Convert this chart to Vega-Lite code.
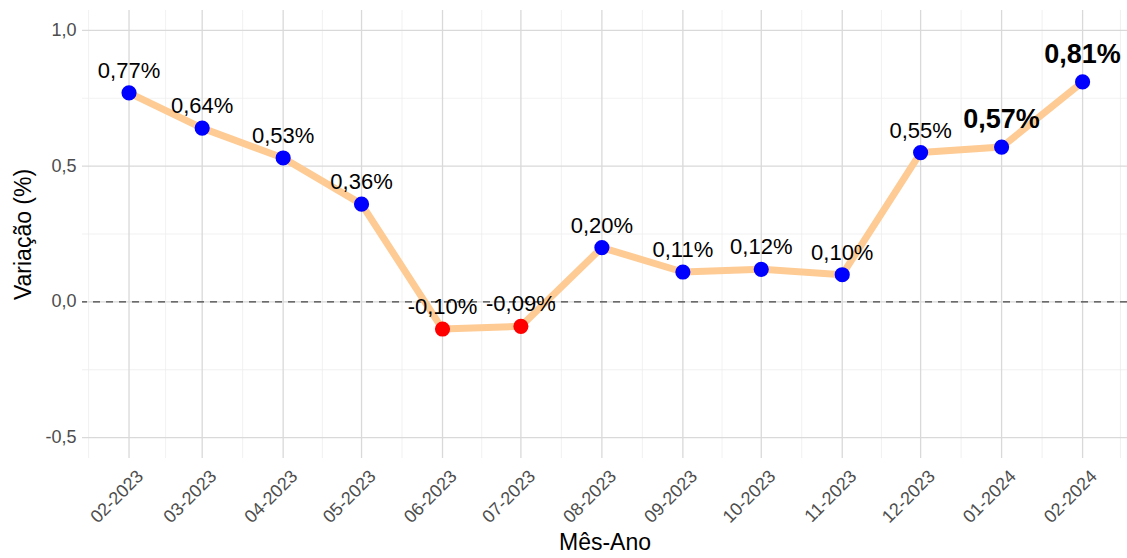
{
  "$schema": "https://vega.github.io/schema/vega-lite/v6.json",
  "width": 1045,
  "height": 448,
  "autosize": "none",
  "padding": {"left": 82, "top": 10, "right": 0, "bottom": 100},
  "background": "white",
  "config": {"view": {"stroke": null}, "font": "Liberation Sans"},
  "datasets": {
    "serie": [
      {"data": "2023-02-01", "valor": 0.77, "rotulo": "0,77%"},
      {"data": "2023-03-01", "valor": 0.64, "rotulo": "0,64%"},
      {"data": "2023-04-01", "valor": 0.53, "rotulo": "0,53%"},
      {"data": "2023-05-01", "valor": 0.36, "rotulo": "0,36%"},
      {"data": "2023-06-01", "valor": -0.10, "rotulo": "-0,10%"},
      {"data": "2023-07-01", "valor": -0.09, "rotulo": "-0,09%"},
      {"data": "2023-08-01", "valor": 0.20, "rotulo": "0,20%"},
      {"data": "2023-09-01", "valor": 0.11, "rotulo": "0,11%"},
      {"data": "2023-10-01", "valor": 0.12, "rotulo": "0,12%"},
      {"data": "2023-11-01", "valor": 0.10, "rotulo": "0,10%"},
      {"data": "2023-12-01", "valor": 0.55, "rotulo": "0,55%"},
      {"data": "2024-01-01", "valor": 0.57, "rotulo": "0,57%"},
      {"data": "2024-02-01", "valor": 0.81, "rotulo": "0,81%"}
    ],
    "menorx": [
      {"data": "2023-01-16T12:00:00Z"},
      {"data": "2023-02-15T00:00:00Z"},
      {"data": "2023-03-16T12:00:00Z"},
      {"data": "2023-04-16T00:00:00Z"},
      {"data": "2023-05-16T12:00:00Z"},
      {"data": "2023-06-16T00:00:00Z"},
      {"data": "2023-07-16T12:00:00Z"},
      {"data": "2023-08-16T12:00:00Z"},
      {"data": "2023-09-16T00:00:00Z"},
      {"data": "2023-10-16T12:00:00Z"},
      {"data": "2023-11-16T00:00:00Z"},
      {"data": "2023-12-16T12:00:00Z"},
      {"data": "2024-01-16T12:00:00Z"},
      {"data": "2024-02-15T12:00:00Z"}
    ],
    "menory": [{"valor": -0.25}, {"valor": 0.25}, {"valor": 0.75}],
    "maiory": [{"valor": -0.5}, {"valor": 0}, {"valor": 0.5}, {"valor": 1.0}]
  },
  "layer": [
    {
      "data": {"name": "menorx"},
      "mark": {"type": "rule", "color": "#ededed", "strokeWidth": 0.8},
      "encoding": {
        "x": {"field": "data", "type": "temporal",
              "scale": {"type": "utc", "domain": [{"year": 2023, "month": "jan", "date": 14, "utc": true}, {"year": 2024, "month": "feb", "date": 18, "utc": true}]}}
      }
    },
    {
      "data": {"name": "menory"},
      "mark": {"type": "rule", "color": "#ededed", "strokeWidth": 0.8},
      "encoding": {
        "y": {"field": "valor", "type": "quantitative", "scale": {"domain": [-0.575, 1.075], "nice": false, "zero": false}}
      }
    },
    {
      "data": {"name": "serie"},
      "mark": {"type": "rule", "color": "#d9d9d9", "strokeWidth": 1.3},
      "encoding": {
        "x": {"field": "data", "type": "temporal",
              "scale": {"type": "utc", "domain": [{"year": 2023, "month": "jan", "date": 14, "utc": true}, {"year": 2024, "month": "feb", "date": 18, "utc": true}]}}
      }
    },
    {
      "data": {"name": "maiory"},
      "mark": {"type": "rule", "color": "#d9d9d9", "strokeWidth": 1.3},
      "encoding": {
        "y": {"field": "valor", "type": "quantitative", "scale": {"domain": [-0.575, 1.075], "nice": false, "zero": false}}
      }
    },
    {
      "data": {"values": [{"valor": 0}]},
      "mark": {"type": "rule", "color": "#444444", "strokeWidth": 1.3, "strokeDash": [7, 6]},
      "encoding": {
        "y": {"field": "valor", "type": "quantitative", "scale": {"domain": [-0.575, 1.075], "nice": false, "zero": false}}
      }
    },
    {
      "data": {"name": "serie"},
      "mark": {"type": "line", "color": "#fecb94", "strokeWidth": 7, "strokeJoin": "round"},
      "encoding": {
        "x": {"field": "data", "type": "temporal",
              "scale": {"type": "utc", "domain": [{"year": 2023, "month": "jan", "date": 14, "utc": true}, {"year": 2024, "month": "feb", "date": 18, "utc": true}]},
              "axis": {
                "title": "Mês-Ano", "format": "%m-%Y",
                "tickCount": {"interval": "month", "step": 1},
                "grid": false, "domain": false, "ticks": false,
                "labelAngle": -45, "labelAlign": "right", "labelBaseline": "top",
                "labelPadding": 9, "labelOffset": 5, "labelFontSize": 18, "labelColor": "#4d4d4d", "labelFont": "Liberation Sans",
                "labelOverlap": false, "labelBound": false, "labelFlush": false,
                "titleFontSize": 23, "titleFontWeight": "normal", "titleColor": "#000000", "titleFont": "Liberation Sans", "titlePadding": 5
              }},
        "y": {"field": "valor", "type": "quantitative",
              "scale": {"domain": [-0.575, 1.075], "nice": false, "zero": false},
              "axis": {
                "title": "Variação (%)", "values": [-0.5, 0, 0.5, 1.0],
                "labelExpr": "replace(replace(format(datum.value, '.1f'), '.', ','), '−', '-')",
                "grid": false, "domain": false, "ticks": false,
                "labelPadding": 6, "labelFontSize": 18, "labelColor": "#4d4d4d", "labelFont": "Liberation Sans",
                "titleFontSize": 23, "titleFontWeight": "normal", "titleColor": "#000000", "titleFont": "Liberation Sans", "titlePadding": 9
              }}
      }
    },
    {
      "data": {"name": "serie"},
      "mark": {"type": "point", "filled": true, "opacity": 1, "size": 230},
      "encoding": {
        "x": {"field": "data", "type": "temporal",
              "scale": {"type": "utc", "domain": [{"year": 2023, "month": "jan", "date": 14, "utc": true}, {"year": 2024, "month": "feb", "date": 18, "utc": true}]}},
        "y": {"field": "valor", "type": "quantitative", "scale": {"domain": [-0.575, 1.075], "nice": false, "zero": false}},
        "color": {"condition": {"test": "datum.valor < 0", "value": "#ff0000"}, "value": "#0000ff"}
      }
    },
    {
      "data": {"name": "serie"},
      "transform": [{"filter": "utcyear(datum.data) < 2024"}],
      "mark": {"type": "text", "fontSize": 22, "font": "Liberation Sans", "color": "#000000", "baseline": "alphabetic", "dy": -15},
      "encoding": {
        "x": {"field": "data", "type": "temporal",
              "scale": {"type": "utc", "domain": [{"year": 2023, "month": "jan", "date": 14, "utc": true}, {"year": 2024, "month": "feb", "date": 18, "utc": true}]}},
        "y": {"field": "valor", "type": "quantitative", "scale": {"domain": [-0.575, 1.075], "nice": false, "zero": false}},
        "text": {"field": "rotulo"}
      }
    },
    {
      "data": {"name": "serie"},
      "transform": [{"filter": "utcyear(datum.data) >= 2024"}],
      "mark": {"type": "text", "fontSize": 27, "fontWeight": "bold", "font": "Liberation Sans", "color": "#000000", "baseline": "alphabetic", "dy": -19},
      "encoding": {
        "x": {"field": "data", "type": "temporal",
              "scale": {"type": "utc", "domain": [{"year": 2023, "month": "jan", "date": 14, "utc": true}, {"year": 2024, "month": "feb", "date": 18, "utc": true}]}},
        "y": {"field": "valor", "type": "quantitative", "scale": {"domain": [-0.575, 1.075], "nice": false, "zero": false}},
        "text": {"field": "rotulo"}
      }
    }
  ]
}
